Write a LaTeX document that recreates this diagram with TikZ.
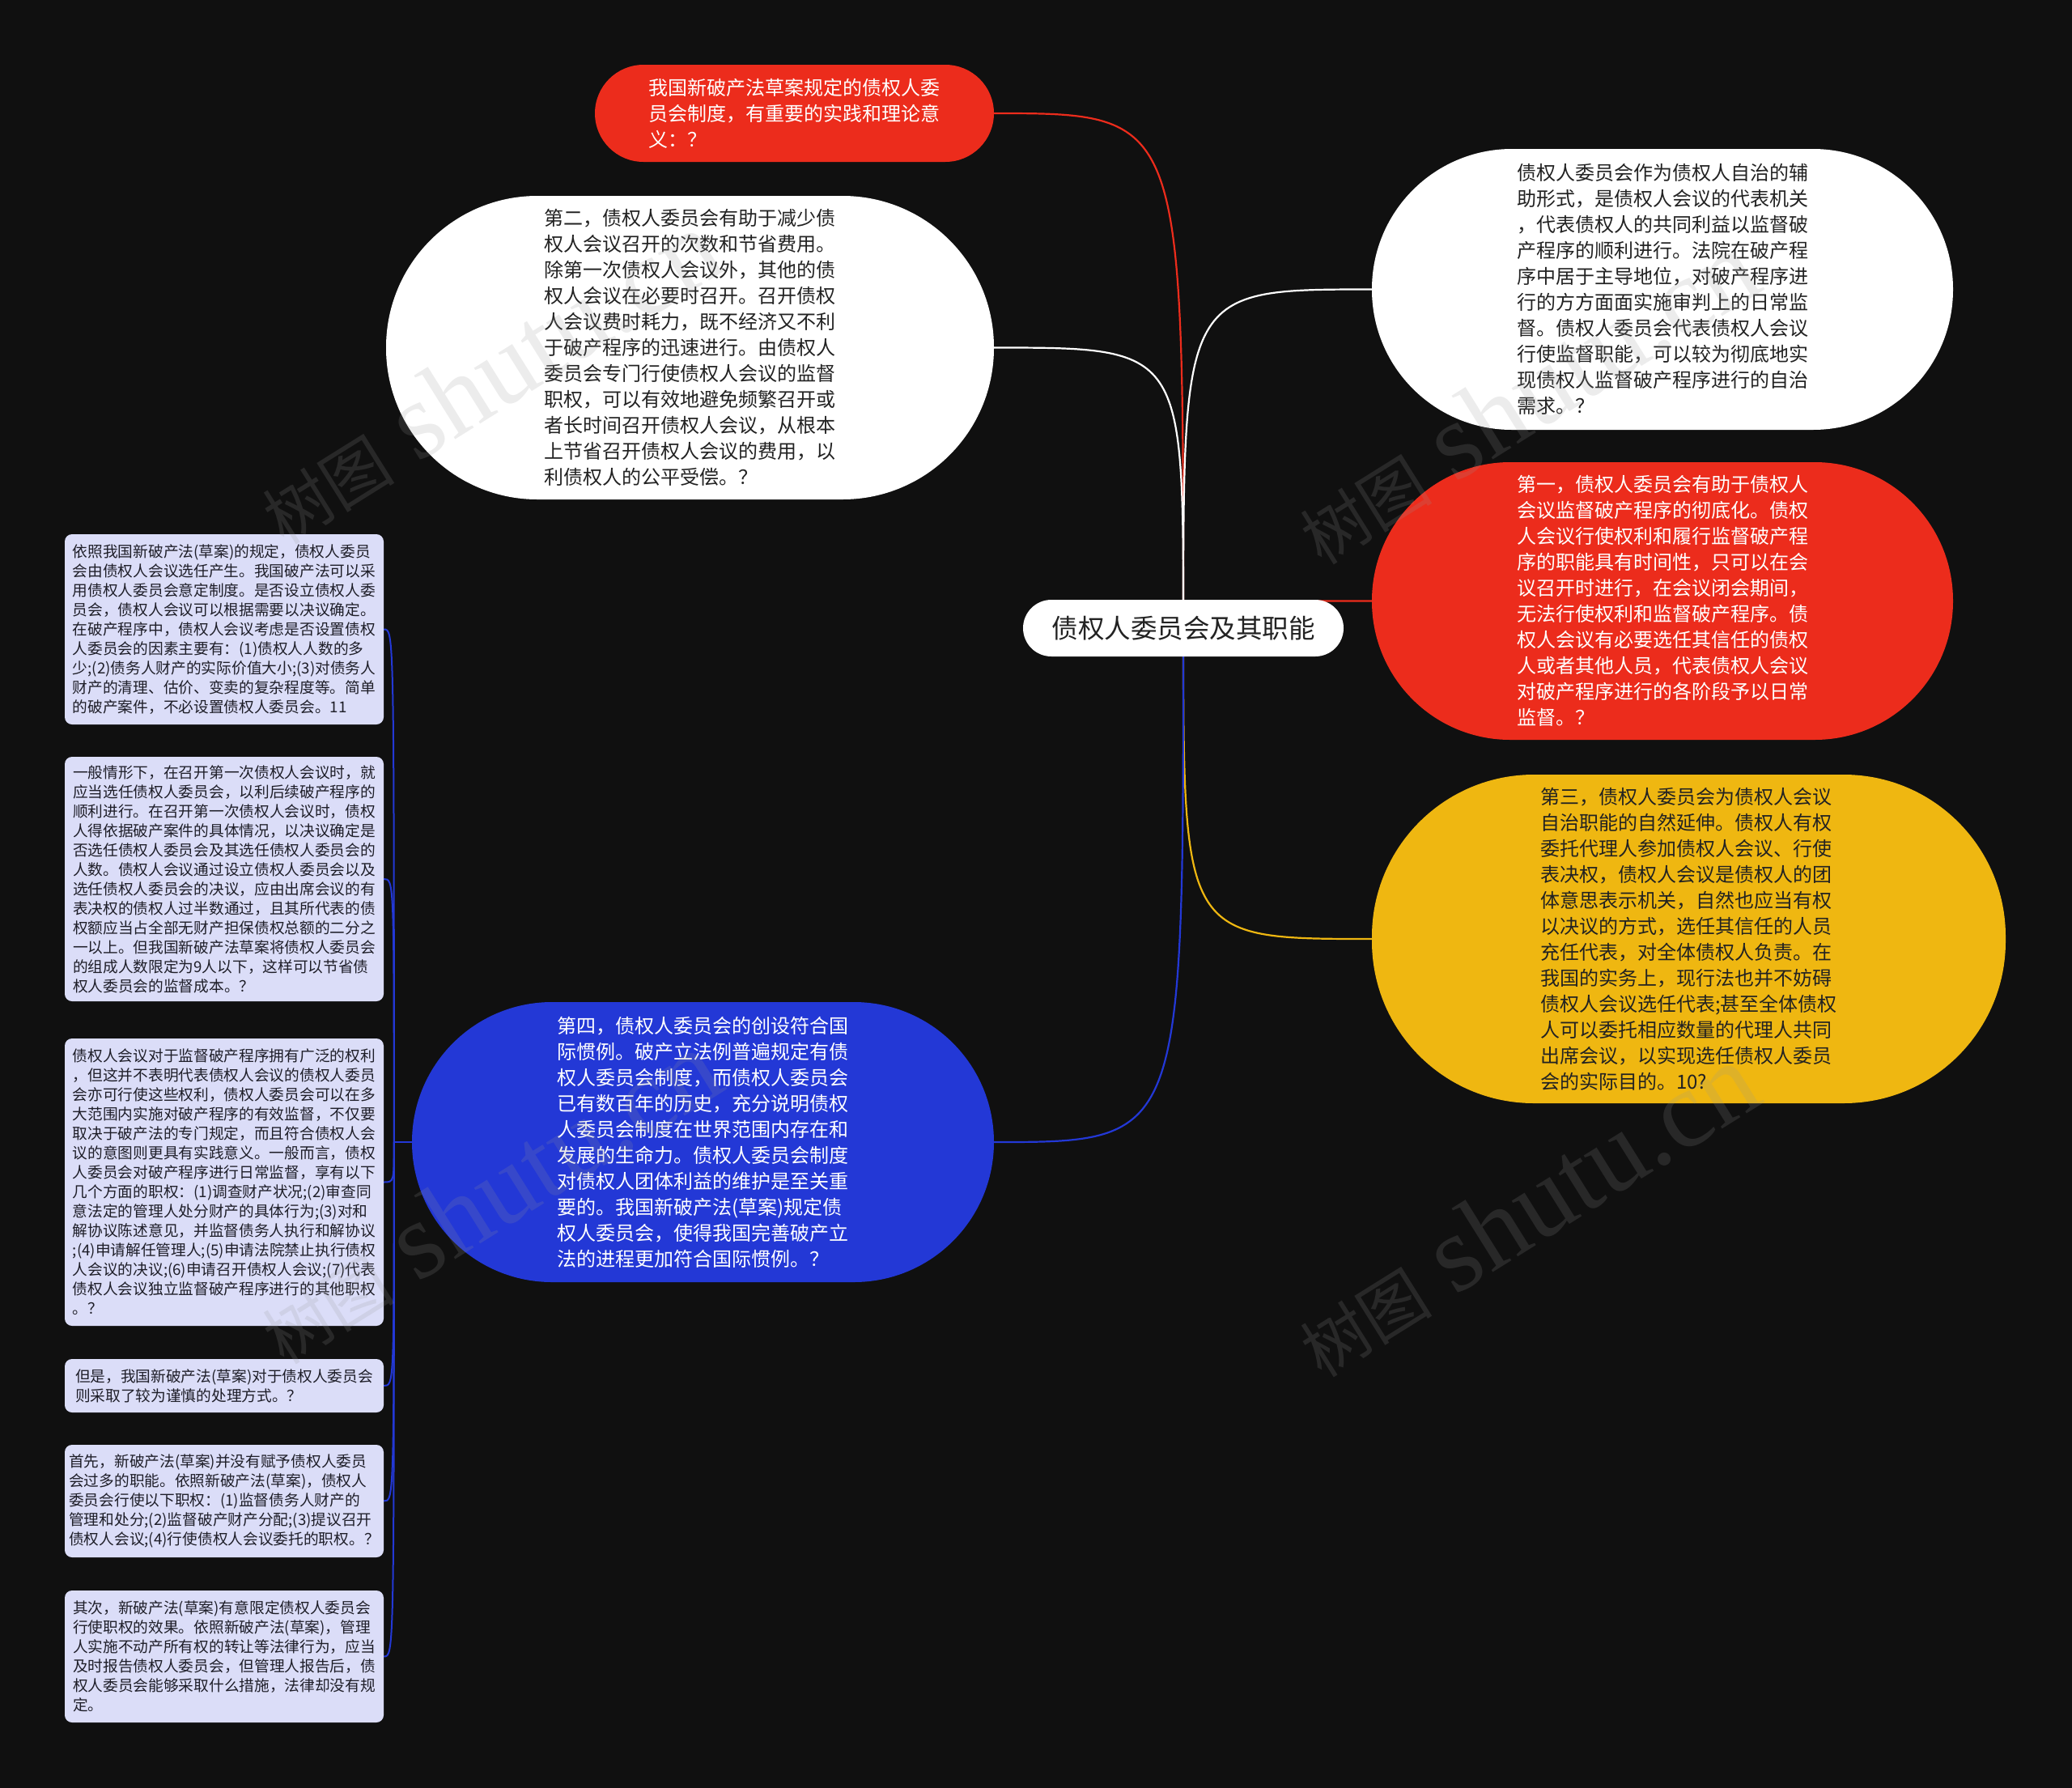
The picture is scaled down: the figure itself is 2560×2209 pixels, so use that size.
\documentclass[tikz,border=0pt]{standalone}
\usepackage{fontspec}
\newfontfamily\cjk{Noto Sans CJK SC}
\newfontfamily\wmlatin{Liberation Serif}
\usetikzlibrary{calc}
\definecolor{bgc}{RGB}{16,16,16}
\definecolor{redc}{RGB}{236,44,28}
\definecolor{yelc}{RGB}{239,183,17}
\definecolor{bluc}{RGB}{35,56,214}
\definecolor{lavc}{RGB}{219,221,248}
\definecolor{darktext}{RGB}{34,34,34}
\definecolor{leaftext}{RGB}{30,30,40}
\definecolor{wmc}{RGB}{150,150,150}
\pgfdeclarelayer{bglayer}
\pgfdeclarelayer{edgelayer}
\pgfdeclarelayer{wmlayer}
\pgfsetlayers{bglayer,edgelayer,main,wmlayer}
\tikzset{
  bignode/.style={inner sep=0pt, align=left, font=\cjk\fontsize{24}{32}\selectfont},
  leafbox/.style={fill=lavc, rounded corners=9pt, minimum width=394pt, inner sep=0pt, align=left, text=leaftext, font=\cjk\fontsize{18.7}{24}\selectfont},
  conn/.style={line width=2.2pt},
  leafconn/.style={line width=2pt, draw=bluc},
  wm/.style={text=wmc, opacity=0.18, rotate=32, anchor=base west, inner sep=0pt}
}
\begin{document}
\begin{tikzpicture}[x=1pt,y=-1pt]
\useasboundingbox (0,0) rectangle (2560,2209);
\begin{pgfonlayer}{bglayer}
\fill[bgc] (0,0) rectangle (2560,2209);
\end{pgfonlayer}

% centre
\node[fill=white, rounded corners=35pt, minimum width=396pt, minimum height=70pt, inner sep=0pt, text=darktext, font=\cjk\fontsize{32.5}{38}\selectfont] (c) at (1462,776) {债权人委员会及其职能};

% main branches
\node[bignode, fill=redc, text=white, minimum width=493pt, minimum height=120pt, rounded corners=60pt] (q) at (981.5,140)
{我国新破产法草案规定的债权人委\\员会制度，有重要的实践和理论意\\义：？};

\node[bignode, fill=white, text=darktext, minimum width=751pt, minimum height=375pt, rounded corners=187pt] (s2) at (852.5,429.5)
{第二，债权人委员会有助于减少债\\权人会议召开的次数和节省费用。\\除第一次债权人会议外，其他的债\\权人会议在必要时召开。召开债权\\人会议费时耗力，既不经济又不利\\于破产程序的迅速进行。由债权人\\委员会专门行使债权人会议的监督\\职权，可以有效地避免频繁召开或\\者长时间召开债权人会议，从根本\\上节省召开债权人会议的费用，以\\利债权人的公平受偿。？};

\node[bignode, fill=white, text=darktext, minimum width=718pt, minimum height=347pt, rounded corners=173pt] (rw) at (2054,357.5)
{债权人委员会作为债权人自治的辅\\助形式，是债权人会议的代表机关\\，代表债权人的共同利益以监督破\\产程序的顺利进行。法院在破产程\\序中居于主导地位，对破产程序进\\行的方方面面实施审判上的日常监\\督。债权人委员会代表债权人会议\\行使监督职能，可以较为彻底地实\\现债权人监督破产程序进行的自治\\需求。？};

\node[bignode, fill=redc, text=white, minimum width=718pt, minimum height=343pt, rounded corners=171pt] (s1) at (2054,742.5)
{第一，债权人委员会有助于债权人\\会议监督破产程序的彻底化。债权\\人会议行使权利和履行监督破产程\\序的职能具有时间性，只可以在会\\议召开时进行，在会议闭会期间，\\无法行使权利和监督破产程序。债\\权人会议有必要选任其信任的债权\\人或者其他人员，代表债权人会议\\对破产程序进行的各阶段予以日常\\监督。？};

\node[bignode, fill=yelc, text=darktext, minimum width=783pt, minimum height=406pt, rounded corners=200pt] (s3) at (2086.5,1160)
{第三，债权人委员会为债权人会议\\自治职能的自然延伸。债权人有权\\委托代理人参加债权人会议、行使\\表决权，债权人会议是债权人的团\\体意思表示机关，自然也应当有权\\以决议的方式，选任其信任的人员\\充任代表，对全体债权人负责。在\\我国的实务上，现行法也并不妨碍\\债权人会议选任代表;甚至全体债权\\人可以委托相应数量的代理人共同\\出席会议，以实现选任债权人委员\\会的实际目的。10?};

\node[bignode, fill=bluc, text=white, minimum width=719pt, minimum height=346pt, rounded corners=173pt] (s4) at (868.5,1411)
{第四，债权人委员会的创设符合国\\际惯例。破产立法例普遍规定有债\\权人委员会制度，而债权人委员会\\已有数百年的历史，充分说明债权\\人委员会制度在世界范围内存在和\\发展的生命力。债权人委员会制度\\对债权人团体利益的维护是至关重\\要的。我国新破产法(草案)规定债\\权人委员会，使得我国完善破产立\\法的进程更加符合国际惯例。？};

% leaves
\node[leafbox, minimum height=235pt] (l1) at (277,777.5)
{依照我国新破产法(草案)的规定，债权人委员\\会由债权人会议选任产生。我国破产法可以采\\用债权人委员会意定制度。是否设立债权人委\\员会，债权人会议可以根据需要以决议确定。\\在破产程序中，债权人会议考虑是否设置债权\\人委员会的因素主要有：(1)债权人人数的多\\少;(2)债务人财产的实际价值大小;(3)对债务人\\财产的清理、估价、变卖的复杂程度等。简单\\的破产案件，不必设置债权人委员会。11};

\node[leafbox, minimum height=302pt] (l2) at (277,1086)
{一般情形下，在召开第一次债权人会议时，就\\应当选任债权人委员会，以利后续破产程序的\\顺利进行。在召开第一次债权人会议时，债权\\人得依据破产案件的具体情况，以决议确定是\\否选任债权人委员会及其选任债权人委员会的\\人数。债权人会议通过设立债权人委员会以及\\选任债权人委员会的决议，应由出席会议的有\\表决权的债权人过半数通过，且其所代表的债\\权额应当占全部无财产担保债权总额的二分之\\一以上。但我国新破产法草案将债权人委员会\\的组成人数限定为9人以下，这样可以节省债\\权人委员会的监督成本。？};

\node[leafbox, minimum height=355pt] (l3) at (277,1460.5)
{债权人会议对于监督破产程序拥有广泛的权利\\，但这并不表明代表债权人会议的债权人委员\\会亦可行使这些权利，债权人委员会可以在多\\大范围内实施对破产程序的有效监督，不仅要\\取决于破产法的专门规定，而且符合债权人会\\议的意图则更具有实践意义。一般而言，债权\\人委员会对破产程序进行日常监督，享有以下\\几个方面的职权：(1)调查财产状况;(2)审查同\\意法定的管理人处分财产的具体行为;(3)对和\\解协议陈述意见，并监督债务人执行和解协议\\;(4)申请解任管理人;(5)申请法院禁止执行债权\\人会议的决议;(6)申请召开债权人会议;(7)代表\\债权人会议独立监督破产程序进行的其他职权\\。？};

\node[leafbox, minimum height=66pt] (l4) at (277,1712)
{但是，我国新破产法(草案)对于债权人委员会\\则采取了较为谨慎的处理方式。？};

\node[leafbox, minimum height=139pt] (l5) at (277,1854.5)
{首先，新破产法(草案)并没有赋予债权人委员\\会过多的职能。依照新破产法(草案)，债权人\\委员会行使以下职权：(1)监督债务人财产的\\管理和处分;(2)监督破产财产分配;(3)提议召开\\债权人会议;(4)行使债权人会议委托的职权。？};

\node[leafbox, minimum height=163pt] (l6) at (277,2046.5)
{其次，新破产法(草案)有意限定债权人委员会\\行使职权的效果。依照新破产法(草案)，管理\\人实施不动产所有权的转让等法律行为，应当\\及时报告债权人委员会，但管理人报告后，债\\权人委员会能够采取什么措施，法律却没有规\\定。};

\coordinate (bj) at ($(s4.west)+(-22,0)$);

\begin{pgfonlayer}{edgelayer}
\draw[conn, redc] (c.center) .. controls (c.center |- q.east) .. (q.east);
\draw[conn, white] (c.center) .. controls (c.center |- s2.east) .. (s2.east);
\draw[conn, white] (c.center) .. controls (c.center |- rw.west) .. (rw.west);
\draw[conn, redc] (c.center) .. controls (c.center |- s1.west) .. (s1.west);
\draw[conn, yelc] (c.center) .. controls (c.center |- s3.west) .. (s3.west);
\draw[conn, bluc] (c.center) .. controls (c.center |- s4.east) .. (s4.east);
\draw[leafconn] (s4.west) -- (bj);
\foreach \l in {l1,l2,l3,l4,l5,l6}{
  \draw[leafconn] (bj) .. controls (bj |- \l.east) .. (\l.east);
}
\end{pgfonlayer}

\begin{pgfonlayer}{wmlayer}
\foreach \px/\py in {351/675, 1633/700, 351/1688, 1633/1704}{
  \node[wm] at (\px,\py) {\cjk\fontsize{82}{90}\selectfont 树图\hspace{30pt}\wmlatin\fontsize{135}{140}\selectfont shutu.cn};
}
\end{pgfonlayer}
\end{tikzpicture}
\end{document}
